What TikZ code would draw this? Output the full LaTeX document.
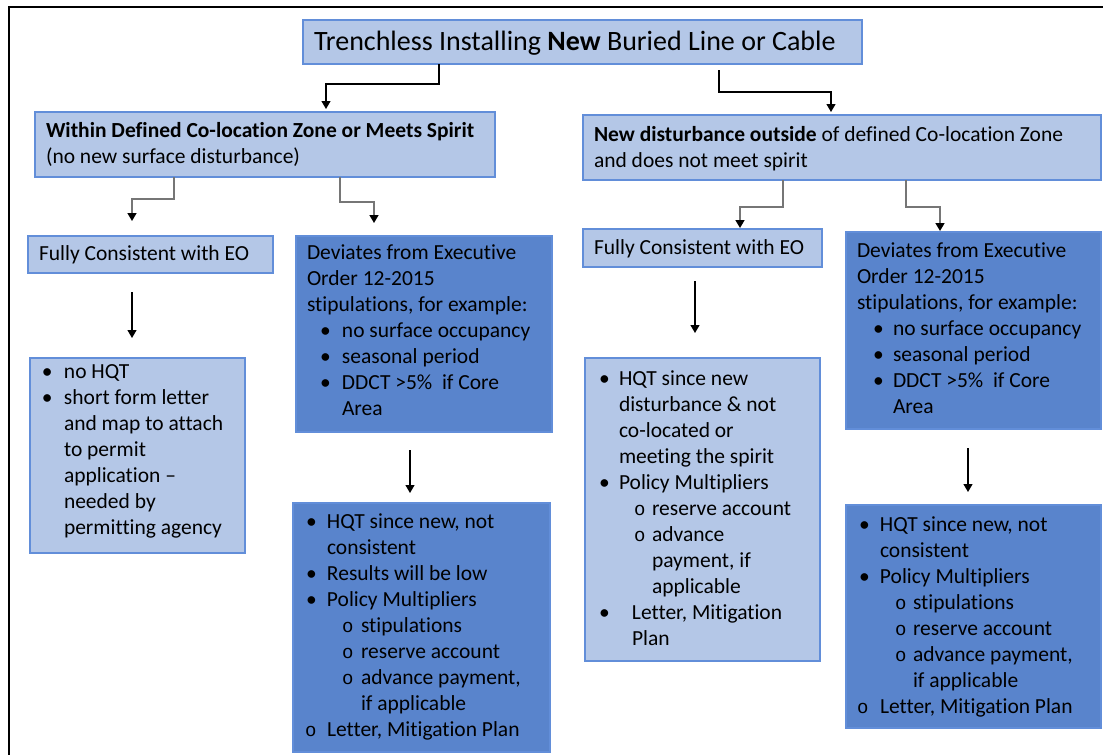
\documentclass[tikz,border=0pt]{standalone}
\usepackage{fontspec}
\setmainfont{Carlito}[Ligatures=NoCommon]
\newfontfamily\cmono{Liberation Mono}
\usetikzlibrary{arrows.meta,calc}
\definecolor{lightbox}{RGB}{180,199,231}
\definecolor{darkbox}{RGB}{89,132,204}
\definecolor{boxline}{RGB}{98,142,217}
\definecolor{connGray}{RGB}{118,118,118}
\newcommand\itm[3]{\par\hangindent=#2pt\hangafter=1\noindent\strut\hbox to #2pt{\hspace*{#1pt}#3\hfil}\ignorespaces}
\newcommand\nl{\hfil\break}
\newcommand\bdot{\textbullet}
\newcommand\sdot{{\cmono\fontsize{19}{26}\selectfont o}}
\newcommand\bx[8]{%
  \pgfmathsetlengthmacro\bxw{(#4-#2)*1pt-22pt}%
  \pgfmathsetlengthmacro\bxh{(#5-#3)*1pt}%
  \node[#6,anchor=north west,inner xsep=11pt,inner ysep=0pt,outer sep=0pt] (#1) at (#2,#3)
    {\hbox to \bxw{\parbox[t][\bxh][t]{\dimexpr\bxw+80pt\relax}{\rightskip=0pt plus 1fil\relax
      \vspace*{\dimexpr#7pt-\ht\strutbox\relax}#8}\hss}};}
\tikzset{
  lb/.style={draw=boxline, fill=lightbox, line width=1.2pt, font=\fontsize{21.5}{26}\selectfont},
  db/.style={draw=boxline, fill=darkbox, line width=1.2pt, font=\fontsize{21.5}{26}\selectfont},
  tb/.style={draw=boxline, fill=lightbox, line width=1.2pt, font=\fontsize{28}{33}\selectfont},
  conn/.style={-{Triangle[width=9pt,length=8pt]}, line width=1.2pt, black},
  gconn/.style={-{Triangle[width=9pt,length=8pt,color=black]}, line width=1.6pt, connGray},
  frame/.style={line width=2pt, black}
}
\begin{document}
\begin{tikzpicture}[x=1pt,y=-1pt]
\useasboundingbox (0,0) rectangle (1103,755);
\draw[frame] (1103,7) -- (9,7) -- (9,755);

\bx{title}{303}{20}{862}{64}{tb}{30}{\strut Trenchless Installing \textbf{New} Buried Line or Cable}

\bx{L2a}{35}{112}{495}{177}{lb}{25}{\strut\textbf{Within Defined Co-location Zone or Meets Spirit}\nl (no new surface disturbance)}

\bx{L2b}{583}{115}{1101}{180}{lb}{26}{\strut\textbf{New disturbance outside} of defined Co-location Zone\nl and does not meet spirit}

\bx{FCa}{28}{236}{273}{273}{lb}{24}{\strut Fully Consistent with EO}

\bx{DVa}{296}{236}{552}{432}{db}{23}{\strut Deviates from Executive\nl Order 12-2015\nl stipulations, for example:
\itm{13}{35}{\bdot}no surface occupancy
\itm{13}{35}{\bdot}seasonal period
\itm{13}{35}{\bdot}DDCT >5\%\ \ if Core\nl Area}

\bx{NHa}{30}{358}{245}{553}{lb}{20}{%
\itm{1}{23}{\bdot}no HQT
\itm{1}{23}{\bdot}short form letter\nl and map to attach\nl to permit\nl application –\nl needed by\nl permitting agency}

\bx{HQa}{293}{503}{550}{752}{db}{25}{%
\itm{2}{23}{\bdot}HQT since new, not\nl consistent
\itm{2}{23}{\bdot}Results will be low
\itm{2}{23}{\bdot}Policy Multipliers
\itm{38}{57}{\sdot}stipulations
\itm{38}{57}{\sdot}reserve account
\itm{38}{57}{\sdot}advance payment,\nl if applicable
\itm{1}{23}{\sdot}Letter, Mitigation Plan}

\bx{FCb}{583}{229}{822}{267}{lb}{25}{\strut Fully Consistent with EO}

\bx{DVb}{846}{232}{1101}{429}{db}{25}{\strut Deviates from Executive\nl Order 12-2015\nl stipulations, for example:
\itm{16}{36}{\bdot}no surface occupancy
\itm{16}{36}{\bdot}seasonal period
\itm{16}{36}{\bdot}DDCT >5\%\ \ if Core\nl Area}

\bx{HQb}{585}{358}{820}{661}{lb}{27}{%
\itm{3}{23}{\bdot}HQT since new\nl disturbance \& not\nl co-located or\nl meeting the spirit
\itm{3}{23}{\bdot}Policy Multipliers
\itm{38}{56}{\sdot}reserve account
\itm{38}{56}{\sdot}advance\nl payment, if\nl applicable
\itm{3}{36}{\bdot}Letter, Mitigation\nl Plan}

\bx{HQc}{846}{505}{1101}{728}{db}{26}{%
\itm{2}{23}{\bdot}HQT since new, not\nl consistent
\itm{2}{23}{\bdot}Policy Multipliers
\itm{38}{56}{\sdot}stipulations
\itm{38}{56}{\sdot}reserve account
\itm{38}{56}{\sdot}advance payment,\nl if applicable
\itm{0}{23}{\sdot}Letter, Mitigation Plan}

\draw[conn] ($(title.south west)+(136,0)$) -- ++(0,20) -| ($(L2a.north west)+(291,-3)$);
\draw[conn] ($(title.south west)+(416,6)$) -- ++(0,22) -| ($(L2b.north west)+(248,-3)$);
\draw[gconn] ($(L2a.south west)+(139,0)$) -- ++(0,22) -| ($(FCa.north west)+(104,-15)$);
\draw[gconn] ($(L2a.south west)+(305,0)$) -- ++(0,25) -| ($(DVa.north west)+(78,-13)$);
\draw[gconn] ($(L2b.south west)+(200,0)$) -- ++(0,27) -| ($(FCb.north west)+(157,-1)$);
\draw[gconn] ($(L2b.south west)+(323,0)$) -- ++(0,27) -| ($(DVb.north west)+(94,-1)$);
\draw[conn] ($(FCa.south west)+(104,19)$) -- ($(NHa.north west)+(102,-20)$);
\draw[conn] ($(DVa.south west)+(114,18)$) -- ($(HQa.north west)+(117,-10)$);
\draw[conn] ($(FCb.south west)+(112,14)$) -- ($(HQb.north west)+(110,-25)$);
\draw[conn] ($(DVb.south west)+(122,19)$) -- ($(HQc.north west)+(122,-13)$);
\end{tikzpicture}
\end{document}
